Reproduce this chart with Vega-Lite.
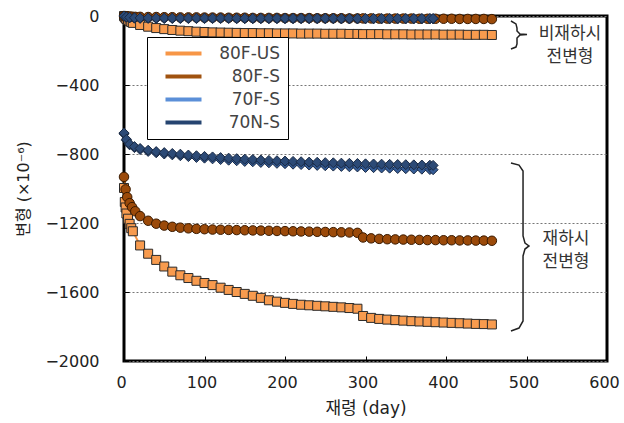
{
"$schema":"https://vega.github.io/schema/vega-lite/v6.json",
"width":483,"height":345,
"autosize":"none",
"padding":{"left":124,"top":16,"right":17,"bottom":62},
"background":"white",
"config":{"view":{"stroke":"#000","strokeWidth":3},"font":"DejaVu Sans"},
"datasets":{
"s":[
{"s":"80F-US","g":"u","d":0,"v":0},{"s":"80F-US","g":"u","d":1,"v":-6},{"s":"80F-US","g":"u","d":2,"v":-12},{"s":"80F-US","g":"u","d":3,"v":-17},{"s":"80F-US","g":"u","d":5,"v":-24},{"s":"80F-US","g":"u","d":7,"v":-30},{"s":"80F-US","g":"u","d":9,"v":-35},{"s":"80F-US","g":"u","d":11,"v":-40},{"s":"80F-US","g":"u","d":20,"v":-52},{"s":"80F-US","g":"u","d":30,"v":-62},{"s":"80F-US","g":"u","d":40,"v":-70},{"s":"80F-US","g":"u","d":50,"v":-76},{"s":"80F-US","g":"u","d":60,"v":-81},{"s":"80F-US","g":"u","d":70,"v":-85},{"s":"80F-US","g":"u","d":80,"v":-88},{"s":"80F-US","g":"u","d":90,"v":-91},{"s":"80F-US","g":"u","d":100,"v":-93},{"s":"80F-US","g":"u","d":110,"v":-95},{"s":"80F-US","g":"u","d":120,"v":-96},{"s":"80F-US","g":"u","d":130,"v":-97},{"s":"80F-US","g":"u","d":140,"v":-98},{"s":"80F-US","g":"u","d":150,"v":-99},{"s":"80F-US","g":"u","d":160,"v":-99},{"s":"80F-US","g":"u","d":170,"v":-100},{"s":"80F-US","g":"u","d":180,"v":-100},{"s":"80F-US","g":"u","d":190,"v":-101},{"s":"80F-US","g":"u","d":200,"v":-101},{"s":"80F-US","g":"u","d":210,"v":-101},{"s":"80F-US","g":"u","d":220,"v":-102},{"s":"80F-US","g":"u","d":230,"v":-102},{"s":"80F-US","g":"u","d":240,"v":-102},{"s":"80F-US","g":"u","d":250,"v":-103},{"s":"80F-US","g":"u","d":260,"v":-103},{"s":"80F-US","g":"u","d":270,"v":-103},{"s":"80F-US","g":"u","d":280,"v":-104},{"s":"80F-US","g":"u","d":290,"v":-104},{"s":"80F-US","g":"u","d":297,"v":-105},{"s":"80F-US","g":"u","d":307,"v":-105},{"s":"80F-US","g":"u","d":317,"v":-105},{"s":"80F-US","g":"u","d":327,"v":-106},{"s":"80F-US","g":"u","d":337,"v":-106},{"s":"80F-US","g":"u","d":347,"v":-106},{"s":"80F-US","g":"u","d":357,"v":-107},{"s":"80F-US","g":"u","d":367,"v":-107},{"s":"80F-US","g":"u","d":377,"v":-107},{"s":"80F-US","g":"u","d":387,"v":-107},{"s":"80F-US","g":"u","d":397,"v":-108},{"s":"80F-US","g":"u","d":407,"v":-108},{"s":"80F-US","g":"u","d":417,"v":-108},{"s":"80F-US","g":"u","d":427,"v":-109},{"s":"80F-US","g":"u","d":437,"v":-109},{"s":"80F-US","g":"u","d":447,"v":-109},{"s":"80F-US","g":"u","d":457,"v":-110},
{"s":"80F-US","g":"l","d":0,"v":-997},{"s":"80F-US","g":"l","d":1,"v":-1078},{"s":"80F-US","g":"l","d":2,"v":-1110},{"s":"80F-US","g":"l","d":3,"v":-1145},{"s":"80F-US","g":"l","d":5,"v":-1175},{"s":"80F-US","g":"l","d":7,"v":-1205},{"s":"80F-US","g":"l","d":9,"v":-1230},{"s":"80F-US","g":"l","d":11,"v":-1248},{"s":"80F-US","g":"l","d":20,"v":-1330},{"s":"80F-US","g":"l","d":30,"v":-1378},{"s":"80F-US","g":"l","d":40,"v":-1414},{"s":"80F-US","g":"l","d":50,"v":-1452},{"s":"80F-US","g":"l","d":60,"v":-1482},{"s":"80F-US","g":"l","d":70,"v":-1503},{"s":"80F-US","g":"l","d":80,"v":-1519},{"s":"80F-US","g":"l","d":90,"v":-1535},{"s":"80F-US","g":"l","d":100,"v":-1548},{"s":"80F-US","g":"l","d":110,"v":-1560},{"s":"80F-US","g":"l","d":120,"v":-1575},{"s":"80F-US","g":"l","d":130,"v":-1588},{"s":"80F-US","g":"l","d":140,"v":-1600},{"s":"80F-US","g":"l","d":150,"v":-1611},{"s":"80F-US","g":"l","d":160,"v":-1622},{"s":"80F-US","g":"l","d":170,"v":-1634},{"s":"80F-US","g":"l","d":180,"v":-1648},{"s":"80F-US","g":"l","d":190,"v":-1656},{"s":"80F-US","g":"l","d":200,"v":-1663},{"s":"80F-US","g":"l","d":210,"v":-1669},{"s":"80F-US","g":"l","d":220,"v":-1674},{"s":"80F-US","g":"l","d":230,"v":-1677},{"s":"80F-US","g":"l","d":240,"v":-1680},{"s":"80F-US","g":"l","d":250,"v":-1683},{"s":"80F-US","g":"l","d":260,"v":-1686},{"s":"80F-US","g":"l","d":270,"v":-1689},{"s":"80F-US","g":"l","d":280,"v":-1693},{"s":"80F-US","g":"l","d":290,"v":-1697},{"s":"80F-US","g":"l","d":297,"v":-1739},{"s":"80F-US","g":"l","d":307,"v":-1750},{"s":"80F-US","g":"l","d":317,"v":-1756},{"s":"80F-US","g":"l","d":327,"v":-1760},{"s":"80F-US","g":"l","d":337,"v":-1763},{"s":"80F-US","g":"l","d":347,"v":-1766},{"s":"80F-US","g":"l","d":357,"v":-1769},{"s":"80F-US","g":"l","d":367,"v":-1771},{"s":"80F-US","g":"l","d":377,"v":-1773},{"s":"80F-US","g":"l","d":387,"v":-1775},{"s":"80F-US","g":"l","d":397,"v":-1777},{"s":"80F-US","g":"l","d":407,"v":-1779},{"s":"80F-US","g":"l","d":417,"v":-1781},{"s":"80F-US","g":"l","d":427,"v":-1783},{"s":"80F-US","g":"l","d":437,"v":-1785},{"s":"80F-US","g":"l","d":447,"v":-1786},{"s":"80F-US","g":"l","d":457,"v":-1788},
{"s":"80F-S","g":"u","d":0,"v":0},{"s":"80F-S","g":"u","d":2,"v":-1},{"s":"80F-S","g":"u","d":4,"v":-2},{"s":"80F-S","g":"u","d":7,"v":-3},{"s":"80F-S","g":"u","d":10,"v":-4},{"s":"80F-S","g":"u","d":14,"v":-5},{"s":"80F-S","g":"u","d":20,"v":-5},{"s":"80F-S","g":"u","d":30,"v":-6},{"s":"80F-S","g":"u","d":40,"v":-6},{"s":"80F-S","g":"u","d":50,"v":-7},{"s":"80F-S","g":"u","d":60,"v":-7},{"s":"80F-S","g":"u","d":70,"v":-8},{"s":"80F-S","g":"u","d":80,"v":-8},{"s":"80F-S","g":"u","d":90,"v":-8},{"s":"80F-S","g":"u","d":100,"v":-9},{"s":"80F-S","g":"u","d":110,"v":-9},{"s":"80F-S","g":"u","d":120,"v":-9},{"s":"80F-S","g":"u","d":130,"v":-10},{"s":"80F-S","g":"u","d":140,"v":-10},{"s":"80F-S","g":"u","d":150,"v":-10},{"s":"80F-S","g":"u","d":160,"v":-11},{"s":"80F-S","g":"u","d":170,"v":-11},{"s":"80F-S","g":"u","d":180,"v":-11},{"s":"80F-S","g":"u","d":190,"v":-11},{"s":"80F-S","g":"u","d":200,"v":-12},{"s":"80F-S","g":"u","d":210,"v":-12},{"s":"80F-S","g":"u","d":220,"v":-12},{"s":"80F-S","g":"u","d":230,"v":-12},{"s":"80F-S","g":"u","d":240,"v":-13},{"s":"80F-S","g":"u","d":250,"v":-13},{"s":"80F-S","g":"u","d":260,"v":-13},{"s":"80F-S","g":"u","d":270,"v":-13},{"s":"80F-S","g":"u","d":280,"v":-14},{"s":"80F-S","g":"u","d":290,"v":-14},{"s":"80F-S","g":"u","d":297,"v":-14},{"s":"80F-S","g":"u","d":307,"v":-14},{"s":"80F-S","g":"u","d":317,"v":-15},{"s":"80F-S","g":"u","d":327,"v":-15},{"s":"80F-S","g":"u","d":337,"v":-15},{"s":"80F-S","g":"u","d":347,"v":-15},{"s":"80F-S","g":"u","d":357,"v":-15},{"s":"80F-S","g":"u","d":367,"v":-16},{"s":"80F-S","g":"u","d":377,"v":-16},{"s":"80F-S","g":"u","d":387,"v":-16},{"s":"80F-S","g":"u","d":397,"v":-16},{"s":"80F-S","g":"u","d":407,"v":-16},{"s":"80F-S","g":"u","d":417,"v":-17},{"s":"80F-S","g":"u","d":427,"v":-17},{"s":"80F-S","g":"u","d":437,"v":-17},{"s":"80F-S","g":"u","d":447,"v":-17},{"s":"80F-S","g":"u","d":457,"v":-18},
{"s":"80F-S","g":"l","d":0,"v":-933},{"s":"80F-S","g":"l","d":2,"v":-1005},{"s":"80F-S","g":"l","d":4,"v":-1050},{"s":"80F-S","g":"l","d":7,"v":-1085},{"s":"80F-S","g":"l","d":10,"v":-1108},{"s":"80F-S","g":"l","d":14,"v":-1132},{"s":"80F-S","g":"l","d":20,"v":-1160},{"s":"80F-S","g":"l","d":30,"v":-1187},{"s":"80F-S","g":"l","d":40,"v":-1204},{"s":"80F-S","g":"l","d":50,"v":-1215},{"s":"80F-S","g":"l","d":60,"v":-1222},{"s":"80F-S","g":"l","d":70,"v":-1227},{"s":"80F-S","g":"l","d":80,"v":-1231},{"s":"80F-S","g":"l","d":90,"v":-1234},{"s":"80F-S","g":"l","d":100,"v":-1236},{"s":"80F-S","g":"l","d":110,"v":-1238},{"s":"80F-S","g":"l","d":120,"v":-1239},{"s":"80F-S","g":"l","d":130,"v":-1240},{"s":"80F-S","g":"l","d":140,"v":-1241},{"s":"80F-S","g":"l","d":150,"v":-1242},{"s":"80F-S","g":"l","d":160,"v":-1243},{"s":"80F-S","g":"l","d":170,"v":-1244},{"s":"80F-S","g":"l","d":180,"v":-1245},{"s":"80F-S","g":"l","d":190,"v":-1246},{"s":"80F-S","g":"l","d":200,"v":-1247},{"s":"80F-S","g":"l","d":210,"v":-1248},{"s":"80F-S","g":"l","d":220,"v":-1249},{"s":"80F-S","g":"l","d":230,"v":-1250},{"s":"80F-S","g":"l","d":240,"v":-1251},{"s":"80F-S","g":"l","d":250,"v":-1252},{"s":"80F-S","g":"l","d":260,"v":-1253},{"s":"80F-S","g":"l","d":270,"v":-1254},{"s":"80F-S","g":"l","d":280,"v":-1255},{"s":"80F-S","g":"l","d":290,"v":-1257},{"s":"80F-S","g":"l","d":297,"v":-1284},{"s":"80F-S","g":"l","d":307,"v":-1289},{"s":"80F-S","g":"l","d":317,"v":-1292},{"s":"80F-S","g":"l","d":327,"v":-1294},{"s":"80F-S","g":"l","d":337,"v":-1295},{"s":"80F-S","g":"l","d":347,"v":-1296},{"s":"80F-S","g":"l","d":357,"v":-1297},{"s":"80F-S","g":"l","d":367,"v":-1298},{"s":"80F-S","g":"l","d":377,"v":-1299},{"s":"80F-S","g":"l","d":387,"v":-1299},{"s":"80F-S","g":"l","d":397,"v":-1300},{"s":"80F-S","g":"l","d":407,"v":-1300},{"s":"80F-S","g":"l","d":417,"v":-1301},{"s":"80F-S","g":"l","d":427,"v":-1301},{"s":"80F-S","g":"l","d":437,"v":-1302},{"s":"80F-S","g":"l","d":447,"v":-1302},{"s":"80F-S","g":"l","d":457,"v":-1303},
{"s":"70F-S","g":"u","d":0,"v":0},{"s":"70F-S","g":"u","d":3,"v":-7},{"s":"70F-S","g":"u","d":7,"v":-11},{"s":"70F-S","g":"u","d":13,"v":-13},{"s":"70F-S","g":"u","d":20,"v":-14},{"s":"70F-S","g":"u","d":30,"v":-14},{"s":"70F-S","g":"u","d":40,"v":-15},{"s":"70F-S","g":"u","d":50,"v":-15},{"s":"70F-S","g":"u","d":60,"v":-15},{"s":"70F-S","g":"u","d":70,"v":-15},{"s":"70F-S","g":"u","d":80,"v":-15},{"s":"70F-S","g":"u","d":90,"v":-15},{"s":"70F-S","g":"u","d":100,"v":-15},{"s":"70F-S","g":"u","d":110,"v":-15},{"s":"70F-S","g":"u","d":120,"v":-15},{"s":"70F-S","g":"u","d":130,"v":-15},{"s":"70F-S","g":"u","d":140,"v":-16},{"s":"70F-S","g":"u","d":150,"v":-16},{"s":"70F-S","g":"u","d":160,"v":-16},{"s":"70F-S","g":"u","d":170,"v":-16},{"s":"70F-S","g":"u","d":180,"v":-16},{"s":"70F-S","g":"u","d":190,"v":-16},{"s":"70F-S","g":"u","d":200,"v":-16},{"s":"70F-S","g":"u","d":210,"v":-16},{"s":"70F-S","g":"u","d":220,"v":-16},{"s":"70F-S","g":"u","d":230,"v":-16},{"s":"70F-S","g":"u","d":240,"v":-16},{"s":"70F-S","g":"u","d":250,"v":-16},{"s":"70F-S","g":"u","d":260,"v":-16},{"s":"70F-S","g":"u","d":270,"v":-17},{"s":"70F-S","g":"u","d":280,"v":-17},{"s":"70F-S","g":"u","d":290,"v":-17},{"s":"70F-S","g":"u","d":300,"v":-17},{"s":"70F-S","g":"u","d":310,"v":-17},{"s":"70F-S","g":"u","d":320,"v":-17},{"s":"70F-S","g":"u","d":330,"v":-17},{"s":"70F-S","g":"u","d":340,"v":-17},{"s":"70F-S","g":"u","d":350,"v":-17},{"s":"70F-S","g":"u","d":360,"v":-17},{"s":"70F-S","g":"u","d":370,"v":-17},{"s":"70F-S","g":"u","d":380,"v":-17},{"s":"70F-S","g":"u","d":384,"v":-17},
{"s":"70F-S","g":"l","d":0,"v":-683},{"s":"70F-S","g":"l","d":3,"v":-720},{"s":"70F-S","g":"l","d":7,"v":-747},{"s":"70F-S","g":"l","d":13,"v":-763},{"s":"70F-S","g":"l","d":20,"v":-774},{"s":"70F-S","g":"l","d":30,"v":-785},{"s":"70F-S","g":"l","d":40,"v":-793},{"s":"70F-S","g":"l","d":50,"v":-800},{"s":"70F-S","g":"l","d":60,"v":-805},{"s":"70F-S","g":"l","d":70,"v":-810},{"s":"70F-S","g":"l","d":80,"v":-815},{"s":"70F-S","g":"l","d":90,"v":-820},{"s":"70F-S","g":"l","d":100,"v":-824},{"s":"70F-S","g":"l","d":110,"v":-828},{"s":"70F-S","g":"l","d":120,"v":-832},{"s":"70F-S","g":"l","d":130,"v":-836},{"s":"70F-S","g":"l","d":140,"v":-839},{"s":"70F-S","g":"l","d":150,"v":-843},{"s":"70F-S","g":"l","d":160,"v":-845},{"s":"70F-S","g":"l","d":170,"v":-849},{"s":"70F-S","g":"l","d":180,"v":-851},{"s":"70F-S","g":"l","d":190,"v":-854},{"s":"70F-S","g":"l","d":200,"v":-856},{"s":"70F-S","g":"l","d":210,"v":-859},{"s":"70F-S","g":"l","d":220,"v":-861},{"s":"70F-S","g":"l","d":230,"v":-864},{"s":"70F-S","g":"l","d":240,"v":-866},{"s":"70F-S","g":"l","d":250,"v":-868},{"s":"70F-S","g":"l","d":260,"v":-870},{"s":"70F-S","g":"l","d":270,"v":-872},{"s":"70F-S","g":"l","d":280,"v":-874},{"s":"70F-S","g":"l","d":290,"v":-875},{"s":"70F-S","g":"l","d":300,"v":-878},{"s":"70F-S","g":"l","d":310,"v":-879},{"s":"70F-S","g":"l","d":320,"v":-881},{"s":"70F-S","g":"l","d":330,"v":-882},{"s":"70F-S","g":"l","d":340,"v":-884},{"s":"70F-S","g":"l","d":350,"v":-885},{"s":"70F-S","g":"l","d":360,"v":-887},{"s":"70F-S","g":"l","d":370,"v":-888},{"s":"70F-S","g":"l","d":380,"v":-890},{"s":"70F-S","g":"l","d":384,"v":-891},
{"s":"70N-S","g":"u","d":0,"v":0},{"s":"70N-S","g":"u","d":3,"v":-5},{"s":"70N-S","g":"u","d":7,"v":-8},{"s":"70N-S","g":"u","d":13,"v":-10},{"s":"70N-S","g":"u","d":20,"v":-11},{"s":"70N-S","g":"u","d":30,"v":-11},{"s":"70N-S","g":"u","d":40,"v":-12},{"s":"70N-S","g":"u","d":50,"v":-12},{"s":"70N-S","g":"u","d":60,"v":-12},{"s":"70N-S","g":"u","d":70,"v":-12},{"s":"70N-S","g":"u","d":80,"v":-12},{"s":"70N-S","g":"u","d":90,"v":-12},{"s":"70N-S","g":"u","d":100,"v":-12},{"s":"70N-S","g":"u","d":110,"v":-12},{"s":"70N-S","g":"u","d":120,"v":-12},{"s":"70N-S","g":"u","d":130,"v":-12},{"s":"70N-S","g":"u","d":140,"v":-13},{"s":"70N-S","g":"u","d":150,"v":-13},{"s":"70N-S","g":"u","d":160,"v":-13},{"s":"70N-S","g":"u","d":170,"v":-13},{"s":"70N-S","g":"u","d":180,"v":-13},{"s":"70N-S","g":"u","d":190,"v":-13},{"s":"70N-S","g":"u","d":200,"v":-13},{"s":"70N-S","g":"u","d":210,"v":-13},{"s":"70N-S","g":"u","d":220,"v":-13},{"s":"70N-S","g":"u","d":230,"v":-13},{"s":"70N-S","g":"u","d":240,"v":-13},{"s":"70N-S","g":"u","d":250,"v":-13},{"s":"70N-S","g":"u","d":260,"v":-13},{"s":"70N-S","g":"u","d":270,"v":-14},{"s":"70N-S","g":"u","d":280,"v":-14},{"s":"70N-S","g":"u","d":290,"v":-14},{"s":"70N-S","g":"u","d":300,"v":-14},{"s":"70N-S","g":"u","d":310,"v":-14},{"s":"70N-S","g":"u","d":320,"v":-14},{"s":"70N-S","g":"u","d":330,"v":-14},{"s":"70N-S","g":"u","d":340,"v":-14},{"s":"70N-S","g":"u","d":350,"v":-14},{"s":"70N-S","g":"u","d":360,"v":-14},{"s":"70N-S","g":"u","d":370,"v":-14},{"s":"70N-S","g":"u","d":380,"v":-14},{"s":"70N-S","g":"u","d":384,"v":-14},
{"s":"70N-S","g":"l","d":0,"v":-678},{"s":"70N-S","g":"l","d":3,"v":-715},{"s":"70N-S","g":"l","d":7,"v":-742},{"s":"70N-S","g":"l","d":13,"v":-757},{"s":"70N-S","g":"l","d":20,"v":-768},{"s":"70N-S","g":"l","d":30,"v":-778},{"s":"70N-S","g":"l","d":40,"v":-786},{"s":"70N-S","g":"l","d":50,"v":-792},{"s":"70N-S","g":"l","d":60,"v":-797},{"s":"70N-S","g":"l","d":70,"v":-801},{"s":"70N-S","g":"l","d":80,"v":-806},{"s":"70N-S","g":"l","d":90,"v":-810},{"s":"70N-S","g":"l","d":100,"v":-814},{"s":"70N-S","g":"l","d":110,"v":-817},{"s":"70N-S","g":"l","d":120,"v":-821},{"s":"70N-S","g":"l","d":130,"v":-824},{"s":"70N-S","g":"l","d":140,"v":-827},{"s":"70N-S","g":"l","d":150,"v":-830},{"s":"70N-S","g":"l","d":160,"v":-832},{"s":"70N-S","g":"l","d":170,"v":-835},{"s":"70N-S","g":"l","d":180,"v":-837},{"s":"70N-S","g":"l","d":190,"v":-839},{"s":"70N-S","g":"l","d":200,"v":-841},{"s":"70N-S","g":"l","d":210,"v":-843},{"s":"70N-S","g":"l","d":220,"v":-845},{"s":"70N-S","g":"l","d":230,"v":-847},{"s":"70N-S","g":"l","d":240,"v":-848},{"s":"70N-S","g":"l","d":250,"v":-850},{"s":"70N-S","g":"l","d":260,"v":-851},{"s":"70N-S","g":"l","d":270,"v":-853},{"s":"70N-S","g":"l","d":280,"v":-854},{"s":"70N-S","g":"l","d":290,"v":-855},{"s":"70N-S","g":"l","d":300,"v":-857},{"s":"70N-S","g":"l","d":310,"v":-858},{"s":"70N-S","g":"l","d":320,"v":-859},{"s":"70N-S","g":"l","d":330,"v":-860},{"s":"70N-S","g":"l","d":340,"v":-861},{"s":"70N-S","g":"l","d":350,"v":-862},{"s":"70N-S","g":"l","d":360,"v":-863},{"s":"70N-S","g":"l","d":370,"v":-864},{"s":"70N-S","g":"l","d":380,"v":-865},{"s":"70N-S","g":"l","d":384,"v":-866}
],
"brace":[
{"b":"u","i":0,"d":480.7,"v":-29},{"b":"u","i":1,"d":486.9,"v":-46},{"b":"u","i":2,"d":488.2,"v":-70},{"b":"u","i":3,"d":488.2,"v":-87},{"b":"u","i":4,"d":491.9,"v":-104},{"b":"u","i":5,"d":500.6,"v":-107},{"b":"u","i":6,"d":491.9,"v":-110},{"b":"u","i":7,"d":488.2,"v":-128},{"b":"u","i":8,"d":488.2,"v":-162},{"b":"u","i":9,"d":486.9,"v":-180},{"b":"u","i":10,"d":480.7,"v":-191},
{"b":"l","i":0,"d":480.7,"v":-852},{"b":"l","i":1,"d":490.7,"v":-864},{"b":"l","i":2,"d":495.7,"v":-899},{"b":"l","i":3,"d":495.7,"v":-1275},{"b":"l","i":4,"d":498.1,"v":-1316},{"b":"l","i":5,"d":503.1,"v":-1333},{"b":"l","i":6,"d":498.1,"v":-1351},{"b":"l","i":7,"d":495.7,"v":-1391},{"b":"l","i":8,"d":495.7,"v":-1768},{"b":"l","i":9,"d":490.7,"v":-1809},{"b":"l","i":10,"d":480.7,"v":-1826}
],
"txt":[
{"t":"비재하시","d":554,"v":-104},{"t":"전변형","d":554,"v":-238},{"t":"재하시","d":549,"v":-1293},{"t":"전변형","d":549,"v":-1426}
]
},
"layer":[
{
"data":{"name":"s"},
"mark":{"type":"line","strokeWidth":2},
"encoding":{
"x":{"field":"d","type":"quantitative","scale":{"domain":[0,600],"nice":false},
 "axis":{"values":[0,100,200,300,400,500,600],"grid":false,"domain":false,"tickSize":-5,"tickColor":"#000","labelFontSize":16,"labelColor":"#222","labelPadding":18,"labelOffset":-3,"labelFlush":false,"title":"재령 (day)","titleFont":"DejaVu Sans, Noto Sans CJK KR","titleFontSize":17,"titleFontWeight":"normal","titleColor":"#222","titlePadding":10}},
"y":{"field":"v","type":"quantitative","scale":{"domain":[-2000,0],"nice":false},
 "axis":{"values":[0,-400,-800,-1200,-1600,-2000],"format":"d","grid":true,"gridDash":[2,2],"gridColor":"#777","domain":false,"tickSize":-5,"tickColor":"#000","labelFontSize":16,"labelColor":"#222","labelPadding":30,"title":"변형 (×10⁻⁶)","titleFont":"DejaVu Sans, Noto Sans CJK KR","titleFontSize":16,"titleFontWeight":"normal","titleColor":"#222","titlePadding":13}},
"stroke":{"field":"s","type":"nominal","scale":{"domain":["80F-US","80F-S","70F-S","70N-S"],"range":["#F79646","#A0520F","#5B8FD8","#254470"]},
 "legend":{"orient":"none","legendX":23,"legendY":21,"title":null,"symbolType":"M-4.5,0H4.5","symbolSize":64,"symbolStrokeWidth":4,"labelFont":"DejaVu Sans","labelFontSize":17,"labelColor":"#444","labelAlign":"right","labelOffset":88,"fillColor":"white","strokeColor":"#000","padding":8,"symbolOffset":20,"rowPadding":5}},
"detail":{"field":"g"}
}
},
{
"data":{"name":"s"},
"transform":[{"filter":"datum.s == '80F-US'"}],
"mark":{"type":"point","shape":"square","size":81,"filled":true,"opacity":1,"fill":"#F89B4E","stroke":"#2a2a2a","strokeWidth":1},
"encoding":{"x":{"field":"d","type":"quantitative"},"y":{"field":"v","type":"quantitative"}}
},
{
"data":{"name":"s"},
"transform":[{"filter":"datum.s == '80F-S'"}],
"mark":{"type":"point","shape":"circle","size":90,"filled":true,"opacity":1,"fill":"#9B4A0A","stroke":"#3a1a00","strokeWidth":1},
"encoding":{"x":{"field":"d","type":"quantitative"},"y":{"field":"v","type":"quantitative"}}
},
{
"data":{"name":"s"},
"transform":[{"filter":"datum.s == '70F-S'"}],
"mark":{"type":"point","shape":"diamond","size":100,"filled":true,"opacity":1,"fill":"#355C96","stroke":"#1a2a44","strokeWidth":1},
"encoding":{"x":{"field":"d","type":"quantitative"},"y":{"field":"v","type":"quantitative"}}
},
{
"data":{"name":"s"},
"transform":[{"filter":"datum.s == '70N-S'"}],
"mark":{"type":"point","shape":"diamond","size":100,"filled":true,"opacity":1,"fill":"#2C4A76","stroke":"#1a2a44","strokeWidth":1},
"encoding":{"x":{"field":"d","type":"quantitative"},"y":{"field":"v","type":"quantitative"}}
},
{
"data":{"name":"brace"},
"mark":{"type":"line","stroke":"#222","strokeWidth":1.5},
"encoding":{
"x":{"field":"d","type":"quantitative"},
"y":{"field":"v","type":"quantitative"},
"detail":{"field":"b"},
"order":{"field":"i","type":"quantitative"}
}
},
{
"data":{"name":"txt"},
"mark":{"type":"text","font":"Noto Sans CJK KR","fontSize":17,"color":"#333","align":"center","baseline":"middle"},
"encoding":{
"x":{"field":"d","type":"quantitative"},
"y":{"field":"v","type":"quantitative"},
"text":{"field":"t"}
}
}
]
}
